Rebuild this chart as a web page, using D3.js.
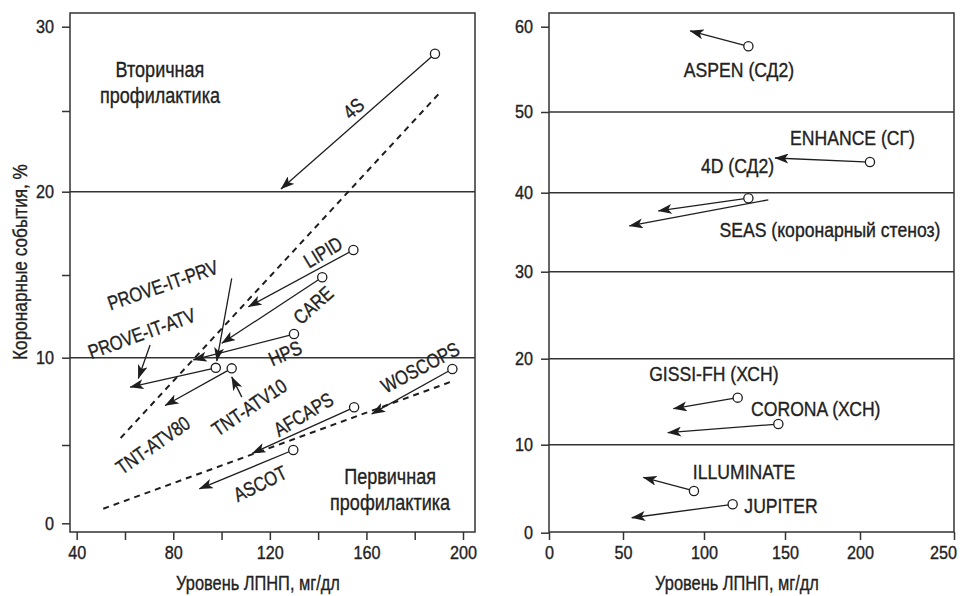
<!DOCTYPE html>
<html><head><meta charset="utf-8">
<script src="https://cdn.jsdelivr.net/npm/d3@7"></script>
<style>
html,body{margin:0;padding:0;background:#fff;}
svg text{font-family:"Liberation Sans",Arial,"Noto Sans",sans-serif;fill:#222;stroke:#222;stroke-width:0.35px;}
</style></head>
<body>
<svg id="chart" width="960" height="596"></svg>
<script>
// ---------- DATA ----------
// Left panel: statin trials (LDL mg/dl vs coronary events %)
const leftNames        = ["4S","LIPID","CARE","HPS","PROVE-IT-PRV","PROVE-IT-ATV","TNT-ATV80","WOSCOPS","AFCAPS","ASCOT"];
const leftLdlBefore    = [188.4,154.6,141.7,130.0,104.2,97.6,104.2,195.6,154.9,129.7];
const leftEventsBefore = [28.4,16.5,14.86,11.43,14.8,9.42,9.39,9.35,7.16,4.68];
const leftLdlAfter     = [124.6,111.1,100.1,88.3,98.0,62.1,76.6,162.2,112.7,90.8];
const leftEventsAfter  = [20.17,13.08,10.87,9.87,9.81,8.32,7.26,6.78,4.47,2.2];
const leftHasCircle    = [true,true,true,true,false,true,true,true,true,true];
// label pointer arrows (label -> point)
const pointerNames = ["PROVE-IT-ATV","TNT-ATV10"];
const pointerFrom  = [[70.4,10.77],[108.4,7.74]];
const pointerTo    = [[65.5,8.81],[104.2,8.90]];
// dashed regression lines
const trendNames  = ["Вторичная профилактика","Первичная профилактика"];
const trendLdl    = [[58.2,190.5],[51.0,194.6]];
const trendEvents = [[5.4,26.1],[0.93,8.6]];

// Right panel
const rightNames        = ["ASPEN (СД2)","ENHANCE (СГ)","4D (СД2)","SEAS (коронарный стеноз)","GISSI-FH (ХСН)","CORONA (ХСН)","ILLUMINATE","JUPITER"];
const rightLdlBefore    = [127.4,205.3,127.4,139.7,120.8,145.9,93.8,117.7];
const rightEventsBefore = [57.7,43.8,39.3,39.1,15.47,12.4,4.74,3.23];
const rightLdlAfter     = [91.4,143.8,71.8,53.9,81.1,77.6,62.5,55.4];
const rightEventsAfter  = [59.5,44.3,37.7,35.8,14.2,11.4,6.3,1.7];
const rightHasCircle    = [true,true,true,false,true,true,true,true];

// Axis ticks
const leftXTicks  = [40,60,80,100,120,140,160,180,200];
const leftXLabels = [40,80,120,160,200];
const leftYTicks  = [0,5,10,15,20,25,30];
const leftYLabels = [0,10,20,30];
const leftGrid    = [10,20];
const rightXTicks = [0,50,100,150,200,250];
const rightYTicks = [0,10,20,30,40,50,60];
const rightGrid   = [10,20,30,40,50];

const xTitle = "Уровень ЛПНП, мг/дл";
const yTitle = "Коронарные события, %";

// ---------- LAYOUT (label placement in data units) ----------
const leftLabelPos = {
  "4S":[154.6,25.16,-41], "LIPID":[142.0,16.38,-31], "CARE":[137.9,13.19,-42], "HPS":[126.3,10.28,-24],
  "PROVE-IT-PRV":[75.6,14.4,-19], "PROVE-IT-ATV":[66.9,11.48,-20], "TNT-ATV80":[71.5,5.0,-35],
  "TNT-ATV10":[111.4,7.16,-34], "AFCAPS":[133.9,6.76,-31], "WOSCOPS":[182.2,9.45,-28], "ASCOT":[115.9,2.55,-26]
};
const sectionLabelPos = [[74.5,27.0,25.5],[169.8,2.5,0.85]];
const rightLabelPos = {
  "ASPEN (СД2)":[121.6,54.07,"middle"], "ENHANCE (СГ)":[195,45.9,"middle"], "4D (СД2)":[120.7,42.4,"middle"],
  "SEAS (коронарный стеноз)":[180,34.35,"middle"], "GISSI-FH (ХСН)":[106.1,17.44,"middle"],
  "CORONA (ХСН)":[170.5,13.34,"middle"], "ILLUMINATE":[124.7,6.1,"middle"], "JUPITER":[124.9,2.27,"start"]
};

// ---------- DRAW ----------
const NX = 0.82;  // horizontal condensing to mimic a narrow typeface
const NXR = 0.88; // condensing for right-panel labels
const NXT = 0.9;  // condensing for tick numbers
const svg = d3.select("#chart");
const ink = "#1e1e1e";
svg.append("defs").append("marker").attr("id","arr").attr("viewBox","0 0 14 10")
  .attr("refX",13.5).attr("refY",5).attr("markerWidth",14).attr("markerHeight",10)
  .attr("markerUnits","userSpaceOnUse").attr("orient","auto")
  .append("path").attr("d","M0,0 L14,5 L0,10 L3.5,5 Z").attr("fill",ink);

function label(x,y,rot,txt,size,anchor,dy,sx){
  return svg.append("text")
    .attr("transform",`translate(${x},${y}) rotate(${rot||0}) scale(${sx||NX},1)`)
    .attr("text-anchor",anchor||"middle").attr("dy",dy||0).attr("font-size",size).text(txt);
}

const L = {left:70,right:475,top:13,bottom:532};
const R = {left:549,right:954,top:13,bottom:532};

const xL = d3.scaleLinear().domain([40,200]).range([76.7,463]);
const yL = d3.scaleLinear().domain(leftYTicks).range([523.3,445,357.7,275,191.7,111,26.7]);
const xR = d3.scaleLinear().domain(rightXTicks).range([549,623,704,785,860,954]);
const yR = d3.scaleLinear().domain(rightYTicks).range([532.7,444.7,358.7,271.7,192.7,112,26.7]);

function frame(B){
  svg.append("rect").attr("x",B.left).attr("y",B.top).attr("width",B.right-B.left).attr("height",B.bottom-B.top)
    .attr("fill","none").attr("stroke","#333").attr("stroke-width",1.5);
}
function gridlines(B,y,vals){
  svg.append("g").selectAll("line").data(vals).join("line")
    .attr("x1",B.left).attr("x2",B.right).attr("y1",d=>y(d)).attr("y2",d=>y(d))
    .attr("stroke","#333").attr("stroke-width",1.5);
}
function axes(B,x,y,xt,xl,yt,yl,lastShift){
  const gx = svg.append("g").attr("transform",`translate(0,${B.bottom})`)
    .call(d3.axisBottom(x).tickValues(xt).tickSize(8).tickPadding(6).tickFormat(d=>xl.includes(d)?d:""));
  const gy = svg.append("g").attr("transform",`translate(${B.left},0)`)
    .call(d3.axisLeft(y).tickValues(yt).tickSize(8).tickFormat(d=>yl.includes(d)?d:""));
  [gx,gy].forEach(g=>{
    g.select(".domain").remove();
    g.selectAll(".tick line").attr("stroke","#333").attr("stroke-width",1.5);
    g.selectAll(".tick text").attr("font-size",18).attr("fill","#222").attr("font-family",null)
      .attr("transform",`scale(${NXT},1)`);
  });
  gy.selectAll(".tick text").attr("x",-16/NXT);
  if(lastShift) gx.selectAll(".tick text").filter(d=>d===xt[xt.length-1]).attr("x",lastShift/NXT);
}

// Left panel
gridlines(L,yL,leftGrid);
frame(L);
axes(L,xL,yL,leftXTicks,leftXLabels,leftYTicks,leftYLabels,0);

svg.append("g").selectAll("line").data(trendNames).join("line")
  .attr("x1",(d,i)=>xL(trendLdl[i][0])).attr("y1",(d,i)=>yL(trendEvents[i][0]))
  .attr("x2",(d,i)=>xL(trendLdl[i][1])).attr("y2",(d,i)=>yL(trendEvents[i][1]))
  .attr("stroke",ink).attr("stroke-width",2).attr("stroke-dasharray","6,5");

svg.append("g").selectAll("line").data(leftNames).join("line")
  .attr("x1",(d,i)=>xL(leftLdlBefore[i])).attr("y1",(d,i)=>yL(leftEventsBefore[i]))
  .attr("x2",(d,i)=>xL(leftLdlAfter[i])).attr("y2",(d,i)=>yL(leftEventsAfter[i]))
  .attr("stroke",ink).attr("stroke-width",1.3).attr("marker-end","url(#arr)");

svg.append("g").selectAll("line").data(pointerNames).join("line")
  .attr("x1",(d,i)=>xL(pointerFrom[i][0])).attr("y1",(d,i)=>yL(pointerFrom[i][1]))
  .attr("x2",(d,i)=>xL(pointerTo[i][0])).attr("y2",(d,i)=>yL(pointerTo[i][1]))
  .attr("stroke",ink).attr("stroke-width",1.3).attr("marker-end","url(#arr)");

svg.append("g").selectAll("circle").data(leftNames.filter((d,i)=>leftHasCircle[i])).join("circle")
  .attr("cx",d=>xL(leftLdlBefore[leftNames.indexOf(d)])).attr("cy",d=>yL(leftEventsBefore[leftNames.indexOf(d)]))
  .attr("r",4.6).attr("fill","#fff").attr("stroke",ink).attr("stroke-width",1.3);

Object.keys(leftLabelPos).forEach(k=>{
  const p = leftLabelPos[k];
  label(xL(p[0]),yL(p[1]),p[2],k,20,"middle","0.36em");
});

trendNames.forEach((t,i)=>{
  const words = t.split(" ");
  const p = sectionLabelPos[i];
  label(xL(p[0]),yL(p[1]),0,words[0],22,"middle");
  label(xL(p[0]),yL(p[2]),0,words[1],22,"middle");
});

// Right panel
gridlines(R,yR,rightGrid);
frame(R);
axes(R,xR,yR,rightXTicks,rightXTicks,rightYTicks,rightYTicks,-11);

svg.append("g").selectAll("line").data(rightNames).join("line")
  .attr("x1",(d,i)=>xR(rightLdlBefore[i])).attr("y1",(d,i)=>yR(rightEventsBefore[i]))
  .attr("x2",(d,i)=>xR(rightLdlAfter[i])).attr("y2",(d,i)=>yR(rightEventsAfter[i]))
  .attr("stroke",ink).attr("stroke-width",1.3).attr("marker-end","url(#arr)");

svg.append("g").selectAll("circle").data(rightNames.filter((d,i)=>rightHasCircle[i])).join("circle")
  .attr("cx",d=>xR(rightLdlBefore[rightNames.indexOf(d)])).attr("cy",d=>yR(rightEventsBefore[rightNames.indexOf(d)]))
  .attr("r",4.6).attr("fill","#fff").attr("stroke",ink).attr("stroke-width",1.3);

rightNames.forEach(n=>{
  const p = rightLabelPos[n];
  label(xR(p[0]),yR(p[1]),0,n,20,p[2],0,NXR);
});

// Axis titles
label(258,590,0,xTitle,20,"middle");
label(737,590,0,xTitle,20,"middle");
label(27,262,-90,yTitle,21,"middle");
</script>
</body></html>
